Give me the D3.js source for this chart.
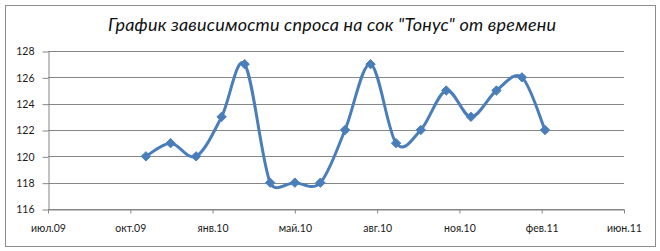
<!DOCTYPE html>
<html>
<head>
<meta charset="utf-8">
<script src="https://cdn.jsdelivr.net/npm/d3@7"></script>
<style>
  body { margin: 0; background: #fff; }
  svg { display: block; font-family: Lato, "DejaVu Sans", sans-serif; }
</style>
</head>
<body>
<svg id="chart" width="660" height="251"></svg>
<script>
// monthly demand, Nov 2009 .. Mar 2011
const months = ["2009-11-01", "2009-12-01", "2010-01-01", "2010-02-01", "2010-03-01",
  "2010-04-01", "2010-05-01", "2010-06-01", "2010-07-01", "2010-08-01", "2010-09-01",
  "2010-10-01", "2010-11-01", "2010-12-01", "2011-01-01", "2011-02-01", "2011-03-01"];
const demand = [120, 121, 120, 123, 127, 118, 118, 118, 122, 127, 121, 122, 125, 123, 125, 126, 122];

// excel date axis, major unit 100 days
const tickDates = ["2009-07-05", "2009-10-13", "2010-01-21", "2010-05-01",
  "2010-08-09", "2010-11-17", "2011-02-25", "2011-06-05"];
const yTicks = [116, 118, 120, 122, 124, 126, 128];
const shortMonths = ["янв", "фев", "мар", "апр", "май", "июн", "июл", "авг", "сен", "окт", "ноя", "дек"];
const title = "График зависимости спроса на сок \"Тонус\" от времени";

const parse = d3.timeParse("%Y-%m-%d");
const ru = d3.timeFormatLocale({
  dateTime: "%A, %e %B %Y г. %X", date: "%d.%m.%Y", time: "%H:%M:%S",
  periods: ["AM", "PM"],
  days: ["воскресенье", "понедельник", "вторник", "среда", "четверг", "пятница", "суббота"],
  shortDays: ["вс", "пн", "вт", "ср", "чт", "пт", "сб"],
  months: ["январь", "февраль", "март", "апрель", "май", "июнь", "июль", "август", "сентябрь", "октябрь", "ноябрь", "декабрь"],
  shortMonths: shortMonths
});
const fmt = ru.format("%b.%y");

const data = months.map((m, i) => ({date: parse(m), value: demand[i]}));
const ticks = tickDates.map(parse);

const plotL = 48, plotR = 624, plotT = 51, plotB = 209;
const gridColor = "#868686";
const lineColor = "#4a7ebb";

// excel-like smoothing: catmull-rom tangents, capped at half the segment length
function curveExcel(context) {
  let pts;
  return {
    areaStart() {}, areaEnd() {},
    lineStart() { pts = []; },
    point(px, py) { pts.push([+px, +py]); },
    lineEnd() {
      const n = pts.length;
      if (!n) return;
      context.moveTo(pts[0][0], pts[0][1]);
      const tan = (i, segLen) => {
        const a = pts[Math.max(i - 1, 0)], b = pts[Math.min(i + 1, n - 1)];
        let tx = (b[0] - a[0]) / 6, ty = (b[1] - a[1]) / 6;
        const len = Math.hypot(tx, ty), cap = segLen / 2;
        if (len > cap && len > 0) { tx *= cap / len; ty *= cap / len; }
        return [tx, ty];
      };
      for (let i = 0; i < n - 1; i++) {
        const p = pts[i], q = pts[i + 1];
        const d = Math.hypot(q[0] - p[0], q[1] - p[1]);
        const t0 = tan(i, d), t1 = tan(i + 1, d);
        context.bezierCurveTo(p[0] + t0[0], p[1] + t0[1], q[0] - t1[0], q[1] - t1[1], q[0], q[1]);
      }
    }
  };
}

const svg = d3.select("#chart");

svg.append("rect")
  .attr("x", 5.5).attr("y", 5.5)
  .attr("width", 650).attr("height", 241)
  .attr("fill", "#fff")
  .attr("stroke", "#8c8c8c")
  .attr("stroke-width", 1);

svg.append("text")
  .attr("x", 332).attr("y", 31)
  .attr("text-anchor", "middle")
  .attr("textLength", 448)
  .attr("lengthAdjust", "spacing")
  .style("font-style", "italic")
  .style("font-size", "18px")
  .attr("fill", "#111")
  .text(title);

const x = d3.scaleTime()
  .domain([ticks[0], ticks[ticks.length - 1]])
  .range([plotL, plotR]);

const y = d3.scaleLinear()
  .domain([116, 128])
  .range([plotB, plotT]);

// gridlines
svg.append("g")
  .selectAll("line")
  .data(yTicks)
  .join("line")
  .attr("x1", plotL).attr("x2", plotR)
  .attr("y1", d => Math.round(y(d)) + 0.5)
  .attr("y2", d => Math.round(y(d)) + 0.5)
  .attr("stroke", gridColor)
  .attr("stroke-width", 1);

const yAxis = svg.append("g")
  .attr("transform", "translate(" + (plotL + 0.5) + ",0.5)")
  .call(d3.axisLeft(y).tickValues(yTicks).tickSize(6).tickPadding(8).tickSizeOuter(0));

const xAxis = svg.append("g")
  .attr("transform", "translate(0," + (Math.round(plotB) + 0.5) + ")")
  .call(d3.axisBottom(x).tickValues(ticks).tickFormat(fmt).tickSize(4).tickPadding(11).tickSizeOuter(0));

[yAxis, xAxis].forEach(g => {
  g.selectAll("path, line").attr("stroke", gridColor);
  g.selectAll("text")
    .attr("fill", "#1a1a1a")
    .style("font-size", "10.5px")
    .style("font-family", "Lato, sans-serif");
});

const line = d3.line()
  .x(d => x(d.date))
  .y(d => y(d.value))
  .curve(curveExcel);

svg.append("path")
  .datum(data)
  .attr("fill", "none")
  .attr("stroke", lineColor)
  .attr("stroke-width", 3)
  .attr("stroke-linejoin", "round")
  .attr("d", line);

svg.append("g")
  .selectAll("path")
  .data(data)
  .join("path")
  .attr("transform", d => "translate(" + x(d.date) + "," + y(d.value) + ")")
  .attr("d", d3.symbol(d3.symbolDiamond2, 56))
  .attr("fill", lineColor)
  .attr("stroke", lineColor)
  .attr("stroke-width", 1);
</script>
</body>
</html>
